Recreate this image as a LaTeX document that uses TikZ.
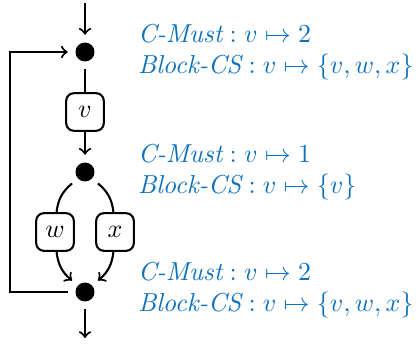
\documentclass[tikz,border=0pt]{standalone}
\usepackage{amsmath,amsfonts,amssymb}
\usepackage{xcolor}
\usepackage{tikz}
\usetikzlibrary{positioning, shapes, calc, arrows}
\definecolor{csblue}{RGB}{16,114,189}

\begin{document}
\begin{tikzpicture}[x=0.385pt, y=-0.385pt, thick,
		dot/.style={circle, fill, minimum size=7.3pt, inner sep=0pt, outer sep=3pt},
		blk/.style={draw, rounded corners=3pt, minimum width=14.5pt, minimum height=14.5pt, inner sep=1pt},
		info/.style={text=csblue, anchor=base west, inner sep=0pt}]
		\useasboundingbox (0,0) rectangle (419,346);
		\pgfmathsetmacro{\colx}{85}
		\pgfmathsetmacro{\spread}{30}
		
		\node[dot] (d1) at (\colx,52) {};
		\node[blk] (v) at (\colx,112) {$v$};
		\node[dot] (d2) at (\colx,172) {};
		\node[blk] (w) at (\colx-\spread,232) {$w$};
		\node[blk] (x) at (\colx+\spread,232) {$x$};
		\node[dot] (d3) at (\colx,292) {};
		\coordinate (entry) at (\colx,3);
		\coordinate (exit) at (\colx,338);
		\coordinate (back) at (10,0);
		
		\draw[->] (entry) -- (d1);
		\draw (d1) -- (v);
		\draw[->] (v) -- (d2);
		\draw (d2) to[bend right=22] (w);
		\draw (d2) to[bend left=22] (x);
		\draw[->] (w) to[bend right=22] (d3);
		\draw[->] (x) to[bend left=22] (d3);
		\draw[->] (d3) -- (d3 -| back) -- (d1 -| back) -- (d1);
		\draw[->] (d3) -- (exit);
		
		\node[info] (m1) at (137,42) {$\textit{C-Must}: v\mapsto 2$};
		\node[info] (b1) at (137,73) {$\textit{Block-CS}: v\mapsto \{v,w,x\}$};
		\node[info] (m2) at (137,162) {$\textit{C-Must}: v\mapsto 1$};
		\node[info] (b2) at (137,193) {$\textit{Block-CS}: v\mapsto \{v\}$};
		\node[info] (m3) at (137,280) {$\textit{C-Must}: v\mapsto 2$};
		\node[info] (b3) at (137,311) {$\textit{Block-CS}: v\mapsto \{v,w,x\}$};
\end{tikzpicture}
\end{document}
